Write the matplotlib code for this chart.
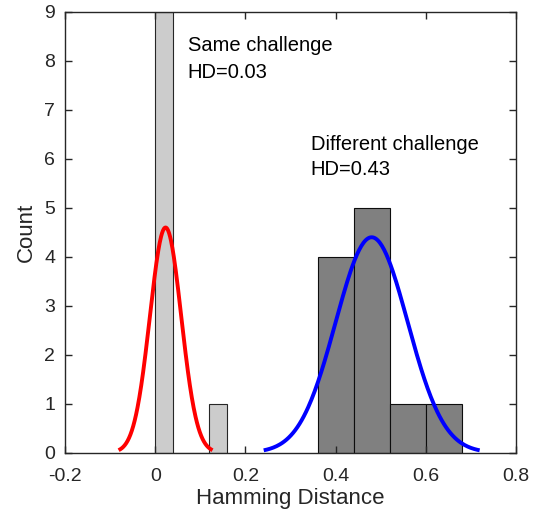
import numpy as np
import matplotlib.pyplot as plt

plt.rcParams['font.family'] = ['Liberation Sans', 'DejaVu Sans']

# histogram data (bin left edges, widths, counts)
same_edges = [0.0, 0.04, 0.08, 0.12]
same_counts = [9, 0, 0, 1]
same_width = 0.04

diff_edges = [0.36, 0.44, 0.52, 0.60]
diff_counts = [4, 5, 1, 1]
diff_width = 0.08

# normal fit parameters (histfit style)
same_mu, same_sigma = 0.023, 0.0347
diff_mu, diff_sigma = 0.48, 0.0798


def fitcurve(mu, sigma, n, bw):
    x = np.linspace(mu - 3 * sigma, mu + 3 * sigma, 200)
    y = n * bw / (sigma * np.sqrt(2 * np.pi)) * np.exp(-(x - mu) ** 2 / (2 * sigma ** 2))
    return x, y


fig = plt.figure(figsize=(5.34, 5.12), dpi=100)
ax = fig.add_axes([0.1217, 0.1158, 0.8446, 0.8608])

ax.bar(same_edges, same_counts, width=same_width, align='edge',
       color=(0.8, 0.8, 0.8), edgecolor=(0.15, 0.15, 0.15), linewidth=0.8)
ax.bar(diff_edges, diff_counts, width=diff_width, align='edge',
       color=(0.5, 0.5, 0.5), edgecolor=(0.05, 0.05, 0.05), linewidth=0.8)

x1, y1 = fitcurve(same_mu, same_sigma, sum(same_counts), same_width)
ax.plot(x1, y1, color='red', lw=2.8, solid_capstyle='butt')
x2, y2 = fitcurve(diff_mu, diff_sigma, sum(diff_counts), diff_width)
ax.plot(x2, y2, color='blue', lw=2.8, solid_capstyle='butt')

ax.text(0.072, 8.32, "Same challenge", fontsize=14.5, va='center')
ax.text(0.072, 7.77, "HD=0.03", fontsize=14.5, va='center')
ax.text(0.345, 6.29, "Different challenge", fontsize=14.5, va='center')
ax.text(0.345, 5.78, "HD=0.43", fontsize=14.5, va='center')

ax.set_xlim(-0.2, 0.8)
ax.set_ylim(0, 9)
ax.set_xticks([-0.2, 0, 0.2, 0.4, 0.6, 0.8])
ax.set_xticklabels(['-0.2', '0', '0.2', '0.4', '0.6', '0.8'])
ax.set_yticks(range(10))
ax.tick_params(direction='in', top=True, right=True, length=5, width=1,
               labelsize=14, colors=(0.15, 0.15, 0.15), labelcolor=(0.15, 0.15, 0.15))
ax.tick_params(axis='x', pad=11)
ax.tick_params(axis='y', pad=7)
for s in ax.spines.values():
    s.set_color((0.15, 0.15, 0.15))
    s.set_linewidth(1)

ax.set_xlabel("Hamming Distance", fontsize=16, color=(0.15, 0.15, 0.15), labelpad=2)
ax.set_ylabel("Count", fontsize=16, color=(0.15, 0.15, 0.15), labelpad=5)

fig.savefig("out.png", dpi=100)
